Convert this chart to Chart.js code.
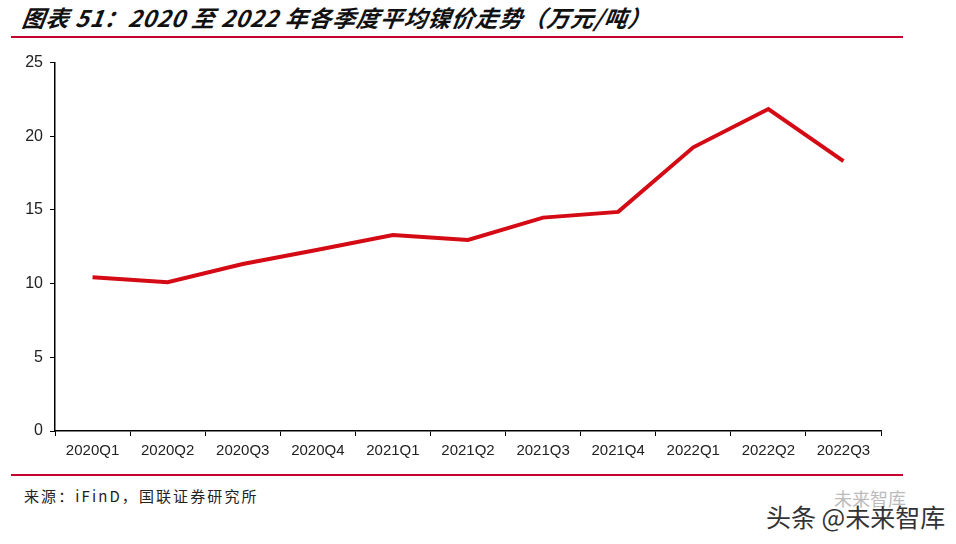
<!DOCTYPE html>
<html>
<head>
<meta charset="utf-8">
<script src="https://cdn.jsdelivr.net/npm/chart.js@4.4.0/dist/chart.umd.min.js"></script>
<style>
  html, body { margin:0; padding:0; background:#fff; }
  body { width:956px; height:544px; position:relative; overflow:hidden; font-family:"Liberation Sans", Arial, sans-serif; }
  #title { position:absolute; left:20px; top:0px; font-family:"Noto Sans CJK SC", sans-serif; font-weight:bold; font-style:italic; font-size:23px; color:#111; white-space:nowrap; letter-spacing:0.8px; transform:skewX(-8deg); transform-origin:left bottom; }
  .rule { position:absolute; left:11px; width:892px; height:2px; background:#c8002d; }
  #src { position:absolute; left:24px; top:485px; font-family:"Noto Sans CJK SC", sans-serif; font-size:15px; color:#222; letter-spacing:2.1px; white-space:nowrap; }
  #wm1 { position:absolute; left:834px; top:485px; font-family:"Noto Sans CJK SC", sans-serif; font-size:18px; color:#bbb; white-space:nowrap; }
  #wm2 { position:absolute; left:766px; top:498px; font-family:"Noto Sans CJK SC", sans-serif; font-size:25px; color:#333; white-space:nowrap; text-shadow:0 0 2px #fff; }
  #box { position:absolute; left:0; top:46px; width:956px; height:424px; }
</style>
</head>
<body>
<div id="title">图表 51：2020 至 2022 年各季度平均镍价走势（万元/吨）</div>
<div class="rule" style="top:36px"></div>
<div id="box"><canvas id="c"></canvas></div>
<div class="rule" style="top:474px"></div>
<div id="src">来源：iFinD，国联证券研究所</div>
<div id="wm1">未来智库</div>
<div id="wm2">头条 @未来智库</div>
<script>
const categories = ["2020Q1","2020Q2","2020Q3","2020Q4","2021Q1","2021Q2","2021Q3","2021Q4","2022Q1","2022Q2","2022Q3"];
const nickelPrice = [10.43, 10.1, 11.33, 12.3, 13.3, 12.97, 14.48, 14.87, 19.25, 21.85, 18.32];
const yTicks = [0, 5, 10, 15, 20, 25];

new Chart(document.getElementById('c'), {
  type: 'line',
  data: {
    labels: categories,
    datasets: [{
      data: nickelPrice,
      borderColor: '#d40a14',
      borderWidth: 4,
      pointRadius: 0,
      tension: 0,
      fill: false
    }]
  },
  options: {
    responsive: true,
    maintainAspectRatio: false,
    animation: false,
    devicePixelRatio: 1,
    layout: { padding: { top: 8, right: 75, bottom: 0, left: 0 } },
    plugins: { legend: { display: false }, tooltip: { enabled: false } },
    scales: {
      x: {
        offset: true,
        grid: { drawOnChartArea: false, drawTicks: true, tickLength: 5, color: '#000', offset: true },
        border: { display: true, color: '#000', width: 1.5 },
        ticks: { color: '#222', font: { family: '"Liberation Sans", Arial, sans-serif', size: 15 }, padding: 6, maxRotation: 0, autoSkip: false },
        afterFit: s => { s.height = 39; }
      },
      y: {
        min: 0, max: 25,
        afterBuildTicks: s => { s.ticks = yTicks.map(v => ({ value: v })); },
        grid: { drawOnChartArea: false, drawTicks: true, tickLength: 5, color: '#000' },
        border: { display: true, color: '#000', width: 1.5 },
        ticks: { color: '#222', font: { family: '"Liberation Sans", Arial, sans-serif', size: 16 }, padding: 7 },
        afterFit: s => { s.width = 55; }
      }
    }
  }
});
</script>
</body>
</html>
